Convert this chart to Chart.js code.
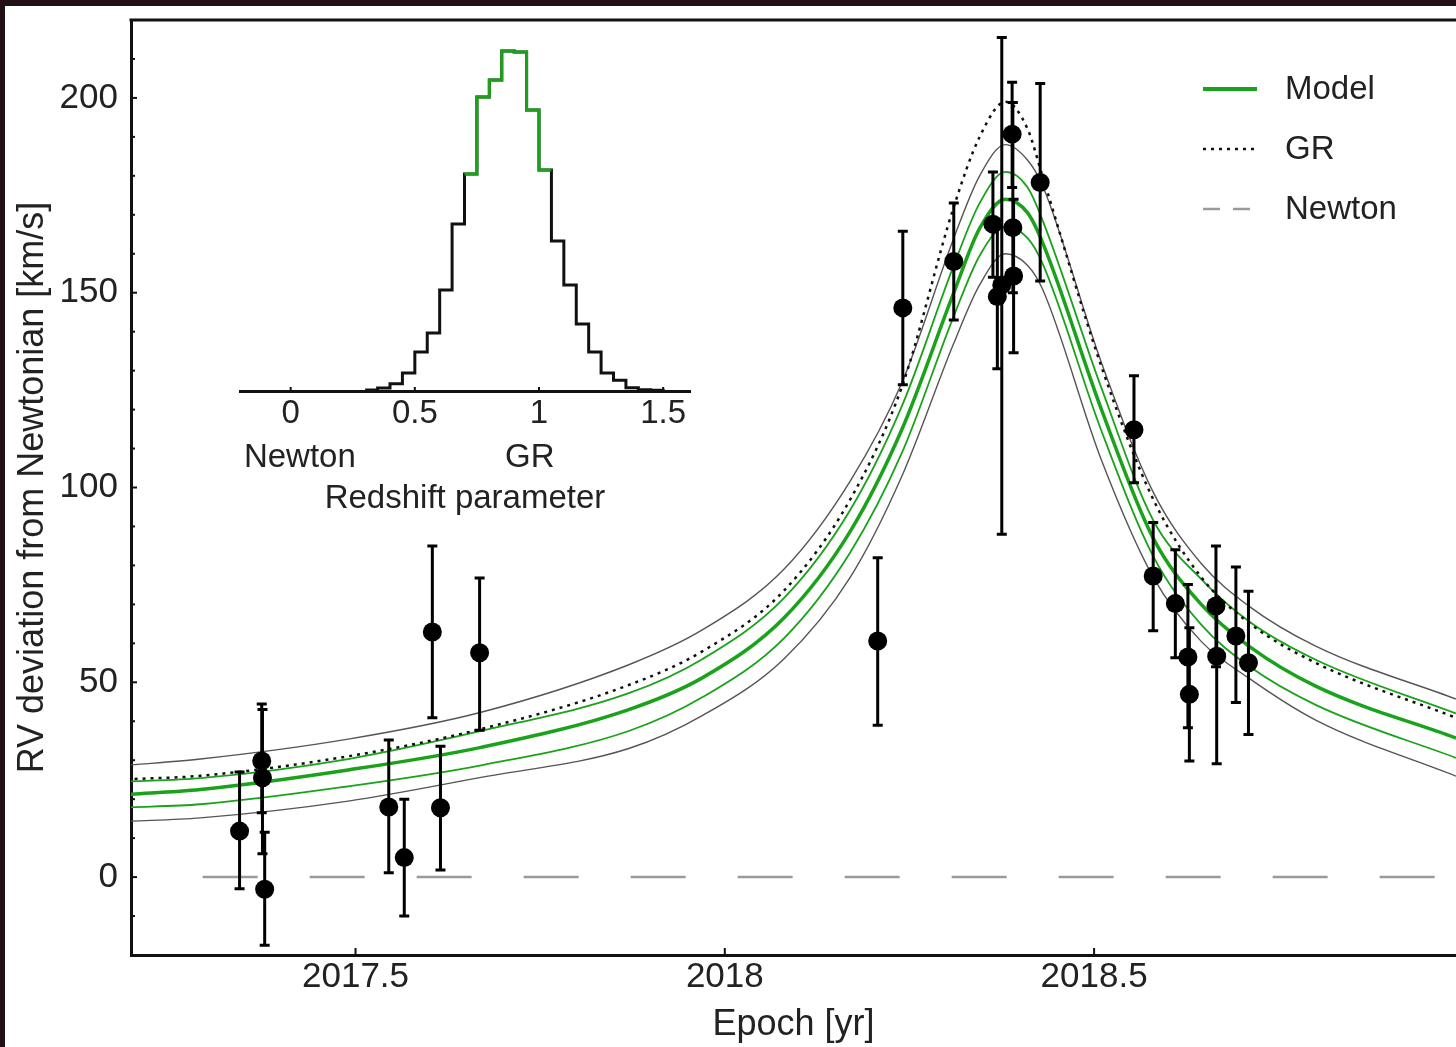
<!DOCTYPE html>
<html>
<head>
<meta charset="utf-8">
<script src="https://cdn.jsdelivr.net/npm/chart.js@4/dist/chart.umd.min.js"></script>
<style>
  html, body { margin: 0; padding: 0; }
  body { width: 1456px; height: 1047px; background: #211114; position: relative; overflow: hidden; }
  #paper { position: absolute; left: 5px; top: 6px; right: 0; bottom: 0; background: #fff; }
  #main { position: absolute; left: 0; top: 0; }
  #inset { position: absolute; left: 200px; top: 20px; }
</style>
</head>
<body>
<div id="paper"></div>
<canvas id="main" width="1456" height="1047"></canvas>
<canvas id="inset" width="520" height="520"></canvas>
<script>
// --- model curves ---
const curveEpochs = [2017.19, 2017.29, 2017.49, 2017.67, 2017.87, 2017.97, 2018.08, 2018.17, 2018.24, 2018.31, 2018.345, 2018.38, 2018.41, 2018.43, 2018.51, 2018.58, 2018.645, 2018.71, 2018.80, 2018.99];
const grCurve  = [25.1, 26.0, 31.0, 38.0, 49.3, 58.0, 73.5, 97.0, 126.0, 172.0, 190.0, 199.0, 192.0, 180.0, 131.0, 97.0, 77.0, 65.2, 55.0, 40.9];
const bandHi   = [28.7, 30.3, 35.4, 42.3, 54.5, 63.5, 79.0, 101.7, 127.0, 164.0, 180.0, 188.0, 184.0, 177.6, 132.0, 98.8, 80.5, 69.5, 59.3, 45.7];
const modelHi  = [24.5, 25.4, 30.3, 37.5, 47.2, 56.0, 71.6, 94.3, 121.0, 157.0, 173.0, 181.0, 177.0, 168.7, 125.5, 91.6, 76.5, 65.6, 55.8, 42.0];
const modelMid = [21.2, 22.5, 27.5, 33.3, 43.0, 51.2, 66.5, 88.8, 115.0, 150.0, 166.5, 174.0, 170.5, 163.0, 120.0, 87.0, 70.0, 59.2, 49.0, 35.7];
const modelLo  = [17.9, 18.7, 23.3, 28.7, 37.5, 46.2, 61.3, 83.4, 109.0, 144.0, 159.5, 167.0, 164.0, 157.6, 114.5, 82.4, 64.8, 54.1, 44.2, 30.6];
const bandLo   = [14.3, 15.2, 19.5, 25.6, 33.0, 41.5, 56.0, 77.0, 103.0, 137.0, 152.0, 160.0, 157.0, 151.0, 107.0, 77.0, 60.5, 51.0, 40.3, 25.9];

const newtonEpochs = [2017.293, 2018.99];
const newtonValues = [0, 0];

// --- measurements ---
const obsEpochs = [2017.343, 2017.373, 2017.374, 2017.377, 2017.545, 2017.566, 2017.604, 2017.615, 2017.668,
  2018.207, 2018.241, 2018.310, 2018.363, 2018.369, 2018.375, 2018.389, 2018.390, 2018.391, 2018.427,
  2018.554, 2018.580, 2018.610, 2018.627, 2018.629, 2018.665, 2018.666, 2018.692, 2018.709];
const obsValues = [11.8, 29.8, 25.5, -3.1, 18.0, 5.0, 62.9, 17.8, 57.6,
  60.6, 146.1, 158.0, 167.6, 149.0, 152.0, 190.7, 166.7, 154.3, 178.3,
  114.8, 77.3, 70.2, 56.5, 46.9, 69.6, 56.7, 61.9, 55.0];
const obsLow = [-3, 16.5, 6, -17.5, 1.1, -10, 40.9, 1.8, 37.7,
  39, 126.4, 143, 154, 130.5, 88, 177, 150, 134.6, 153,
  101.2, 63.2, 56.3, 38.3, 29.8, 54, 29.1, 44.8, 36.6];
const obsHigh = [27, 44.4, 43, 11.5, 35.2, 20, 85, 33.6, 76.8,
  82, 165.8, 173, 181, 168, 215.5, 204, 198.8, 174, 203.7,
  128.7, 91, 84, 75.1, 64, 85, 70, 79.6, 73.4];

// --- inset histogram of the redshift parameter ---
const histEdges = [0.30, 0.35, 0.40, 0.45, 0.50, 0.55, 0.60, 0.65, 0.70, 0.75, 0.80, 0.85, 0.90,
  0.95, 1.00, 1.05, 1.10, 1.15, 1.20, 1.25, 1.30, 1.35, 1.40, 1.45, 1.50];
const histCounts = [1, 3, 7.3, 18, 39, 58, 101, 167, 217, 294, 311, 340, 339, 281, 221, 150, 106, 67, 39, 18, 10.7, 3.3, 1.3, 0.7];
const coreFirst = 8, coreLast = 14; // bins 0.70 - 1.05 drawn in green

const inkColor = '#222';
const green = '#1aa31a';
Chart.defaults.font.family = "'Liberation Sans', Arial, Helvetica, sans-serif";
Chart.defaults.color = inkColor;

const asPoints = (xs, ys) => xs.map((x, i) => ({x: x, y: ys[i]}));

// small ticks pointing into the plot
const innerTicks = {
  id: 'innerTicks',
  afterDraw(chart, args, opts) {
    const ctx = chart.ctx;
    ctx.save();
    ctx.strokeStyle = '#111';
    ctx.lineWidth = 2;
    (opts.axes || []).forEach(a => {
      const s = chart.scales[a.id];
      s.ticks.forEach(t => {
        const len = (a.every && Math.abs(t.value % a.every) > 1e-9) ? a.minor : a.major;
        const p = s.getPixelForValue(t.value);
        ctx.beginPath();
        if (s.isHorizontal()) { ctx.moveTo(p, s.top); ctx.lineTo(p, s.top - len); }
        else { ctx.moveTo(s.right, p); ctx.lineTo(s.right + len, p); }
        ctx.stroke();
      });
    });
    ctx.restore();
  }
};

const topFrame = {
  id: 'topFrame',
  afterDraw(chart) {
    const {ctx, chartArea} = chart;
    ctx.save();
    ctx.strokeStyle = '#111';
    ctx.lineWidth = 3;
    ctx.beginPath();
    ctx.moveTo(chartArea.left - 1.5, chartArea.top);
    ctx.lineTo(chartArea.right, chartArea.top);
    ctx.stroke();
    ctx.restore();
  }
};

const errorBars = {
  id: 'errorBars',
  beforeDatasetDraw(chart, args) {
    if (args.index !== 0) return;
    const {ctx, scales: {x, y}} = chart;
    ctx.save();
    ctx.strokeStyle = '#000';
    ctx.lineWidth = 3;
    obsEpochs.forEach((e, i) => {
      const px = x.getPixelForValue(e);
      const lo = y.getPixelForValue(obsLow[i]);
      const hi = y.getPixelForValue(obsHigh[i]);
      ctx.beginPath();
      ctx.moveTo(px, lo); ctx.lineTo(px, hi);
      ctx.moveTo(px - 5, lo); ctx.lineTo(px + 5, lo);
      ctx.moveTo(px - 5, hi); ctx.lineTo(px + 5, hi);
      ctx.stroke();
    });
    ctx.restore();
  }
};

const lineLegend = {
  id: 'lineLegend',
  afterDraw(chart) {
    const {ctx, chartArea} = chart;
    const items = [
      {text: 'Model', color: green, width: 4, dash: []},
      {text: 'GR', color: '#111', width: 2.5, dash: [3, 5]},
      {text: 'Newton', color: '#9a9a9a', width: 2.5, dash: [17, 13]}
    ];
    const x0 = chartArea.right - 253, y0 = chartArea.top + 69;
    ctx.save();
    ctx.font = "33px 'Liberation Sans', Arial, sans-serif";
    ctx.textBaseline = 'middle';
    ctx.fillStyle = inkColor;
    items.forEach((it, i) => {
      const yy = y0 + i * 60;
      ctx.strokeStyle = it.color;
      ctx.lineWidth = it.width;
      ctx.setLineDash(it.dash);
      ctx.beginPath(); ctx.moveTo(x0, yy); ctx.lineTo(x0 + 54, yy); ctx.stroke();
      ctx.setLineDash([]);
      ctx.fillText(it.text, x0 + 82, yy + 1);
    });
    ctx.restore();
  }
};

const curveSet = (vals, color, width, dash) => ({
  data: asPoints(curveEpochs, vals),
  borderColor: color,
  borderWidth: width,
  borderDash: dash || [],
  pointRadius: 0,
  cubicInterpolationMode: 'monotone'
});

new Chart(document.getElementById('main'), {
  type: 'line',
  data: {
    datasets: [
      {
        data: asPoints(obsEpochs, obsValues),
        showLine: false,
        pointRadius: 9.5,
        pointBackgroundColor: '#000',
        pointBorderWidth: 0
      },
      curveSet(grCurve, '#111', 2.5, [3, 5]),
      curveSet(modelMid, green, 3.5),
      curveSet(modelHi, green, 1.8),
      curveSet(modelLo, green, 1.8),
      curveSet(bandHi, '#555', 1.4),
      curveSet(bandLo, '#555', 1.4),
      {
        data: asPoints(newtonEpochs, newtonValues),
        borderColor: '#9a9a9a',
        borderWidth: 2.5,
        borderDash: [55, 52],
        pointRadius: 0
      }
    ]
  },
  options: {
    responsive: false,
    animation: false,
    events: [],
    layout: { autoPadding: false, padding: { top: 20, left: 0, right: 0, bottom: 0 } },
    plugins: {
      legend: { display: false },
      tooltip: { enabled: false },
      innerTicks: { axes: [{id: 'x', major: 7}, {id: 'y', major: 6, minor: 4, every: 50}] }
    },
    scales: {
      x: {
        type: 'linear',
        min: 2017.196,
        max: 2018.99,
        grid: { display: false, drawTicks: false },
        border: { display: true, color: '#111', width: 3 },
        ticks: {
          stepSize: 0.5, includeBounds: false, autoSkip: false, maxRotation: 0,
          padding: 1, font: { size: 35 },
          callback: v => String(v)
        },
        title: { display: true, text: 'Epoch [yr]', font: { size: 36 }, padding: { top: 0, bottom: 0 } },
        afterFit(s) { s.height = 92; s.paddingLeft = 0; s.paddingRight = 0; }
      },
      y: {
        min: -20,
        max: 220,
        grid: { display: false, drawTicks: false },
        border: { display: true, color: '#111', width: 3 },
        ticks: {
          stepSize: 10, maxTicksLimit: 100, autoSkip: false,
          padding: 13, font: { size: 35 },
          callback: v => (v % 50 === 0 ? String(v) : '')
        },
        title: { display: true, text: 'RV deviation from Newtonian [km/s]', font: { size: 36 }, padding: { top: 11, bottom: 0 } },
        afterFit(s) { s.width = 131; s.paddingTop = 0; s.paddingBottom = 0; }
      }
    }
  },
  plugins: [errorBars, innerTicks, topFrame, lineLegend]
});

// inset: step outline of the posterior, core bins in green
const histOutline = histEdges.map((e, i) => ({x: e, y: i < histCounts.length ? histCounts[i] : 0}));
const histCore = [];
for (let i = coreFirst; i <= coreLast; i++) histCore.push({x: histEdges[i], y: histCounts[i]});
histCore.push({x: histEdges[coreLast + 1], y: histCounts[coreLast]});

new Chart(document.getElementById('inset'), {
  type: 'line',
  data: {
    datasets: [
      { data: histCore, borderColor: green, borderWidth: 3, stepped: 'before', pointRadius: 0 },
      { data: histOutline, borderColor: '#111', borderWidth: 3, stepped: 'before', pointRadius: 0 }
    ]
  },
  options: {
    responsive: false,
    animation: false,
    events: [],
    layout: { autoPadding: false, padding: { left: 40, right: 30, top: 21, bottom: 0 } },
    plugins: {
      legend: { display: false },
      tooltip: { enabled: false },
      innerTicks: { axes: [{id: 'x', major: 4}] }
    },
    scales: {
      x: {
        type: 'linear',
        min: -0.204,
        max: 1.608,
        grid: { display: false, drawTicks: false },
        border: { display: true, color: '#111', width: 3 },
        ticks: {
          stepSize: 0.5, includeBounds: false, autoSkip: false, maxRotation: 0,
          padding: 0, font: { size: 33, lineHeight: 1.36 },
          callback: v => (v === 0 ? ['0', '  Newton'] : v === 1 ? ['1', 'GR  '] : String(v))
        },
        title: { display: true, text: 'Redshift parameter', font: { size: 33 }, padding: { top: 0, bottom: 21 } },
        afterFit(s) { s.height = 149; }
      },
      y: { display: false, min: 0, max: 350 }
    }
  },
  plugins: [innerTicks]
});
</script>
</body>
</html>
